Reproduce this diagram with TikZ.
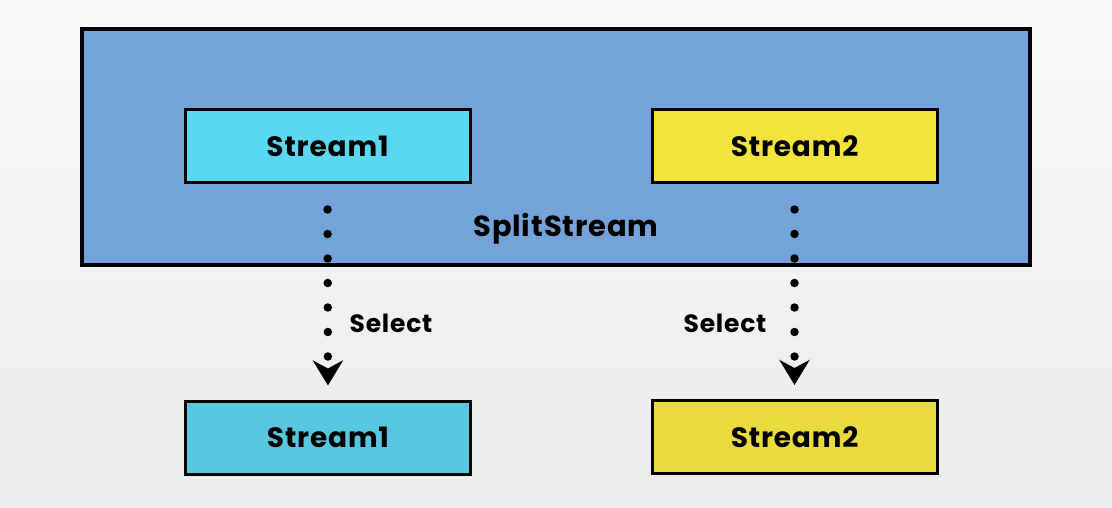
\documentclass[tikz,border=0pt]{standalone}
\usepackage{fontspec}
\setmainfont{Poppins}[LetterSpace=3]
\usepackage{tikz}
\usetikzlibrary{arrows.meta,positioning,calc}
\definecolor{splitblue}{HTML}{73A3D9}
\definecolor{cyantop}{HTML}{5AD8F1}
\definecolor{cyanbot}{HTML}{57C7DF}
\definecolor{yellowtop}{HTML}{F2E43C}
\definecolor{yellowbot}{HTML}{E9DA3E}
\tikzset{
  streambox/.style={draw=black, line width=3pt, minimum width=285pt, minimum height=73pt,
    inner sep=0pt, font=\fontsize{28}{32}\selectfont\bfseries},
  selectarrow/.style={line width=8.5pt, line cap=round, dash pattern=on 0pt off 24.5pt,
    -{Stealth[length=25pt,width=30pt,inset=8pt]}, shorten <=25pt, shorten >=14pt},
  selectlabel/.style={font=\fontsize{25}{29}\selectfont\bfseries}
}
\begin{document}
\begin{tikzpicture}[x=1pt,y=-1pt]
\useasboundingbox (0,0) rectangle (1112,508);
\shade[top color=gray!5, bottom color=gray!15] (0,0) rectangle (1112,508);

% the split stream
\draw[fill=splitblue, line width=3.5pt] (82,29) rectangle (1030,265);
\node[font=\fontsize{29}{33}\selectfont\bfseries] (split) at (566,229) {SplitStream};

\node[streambox, fill=cyantop] (s1top) at (327.5,146.5) {Stream1};
\node[streambox, fill=yellowtop] (s2top) at (794.5,146.5) {Stream2};

\node[streambox, fill=cyanbot] (s1bot) at (328,437.5) {Stream1};
\node[streambox, fill=yellowbot] (s2bot) at (794.5,437) {Stream2};

% select
\draw[selectarrow] (s1top.south) -- (s1bot.north);
\draw[selectarrow] (s2top.south) -- (s2bot.north);
\node[selectlabel] (sel1) at (391,323) {Select};
\node[selectlabel] (sel2) at (725,323) {Select};
\end{tikzpicture}
\end{document}
